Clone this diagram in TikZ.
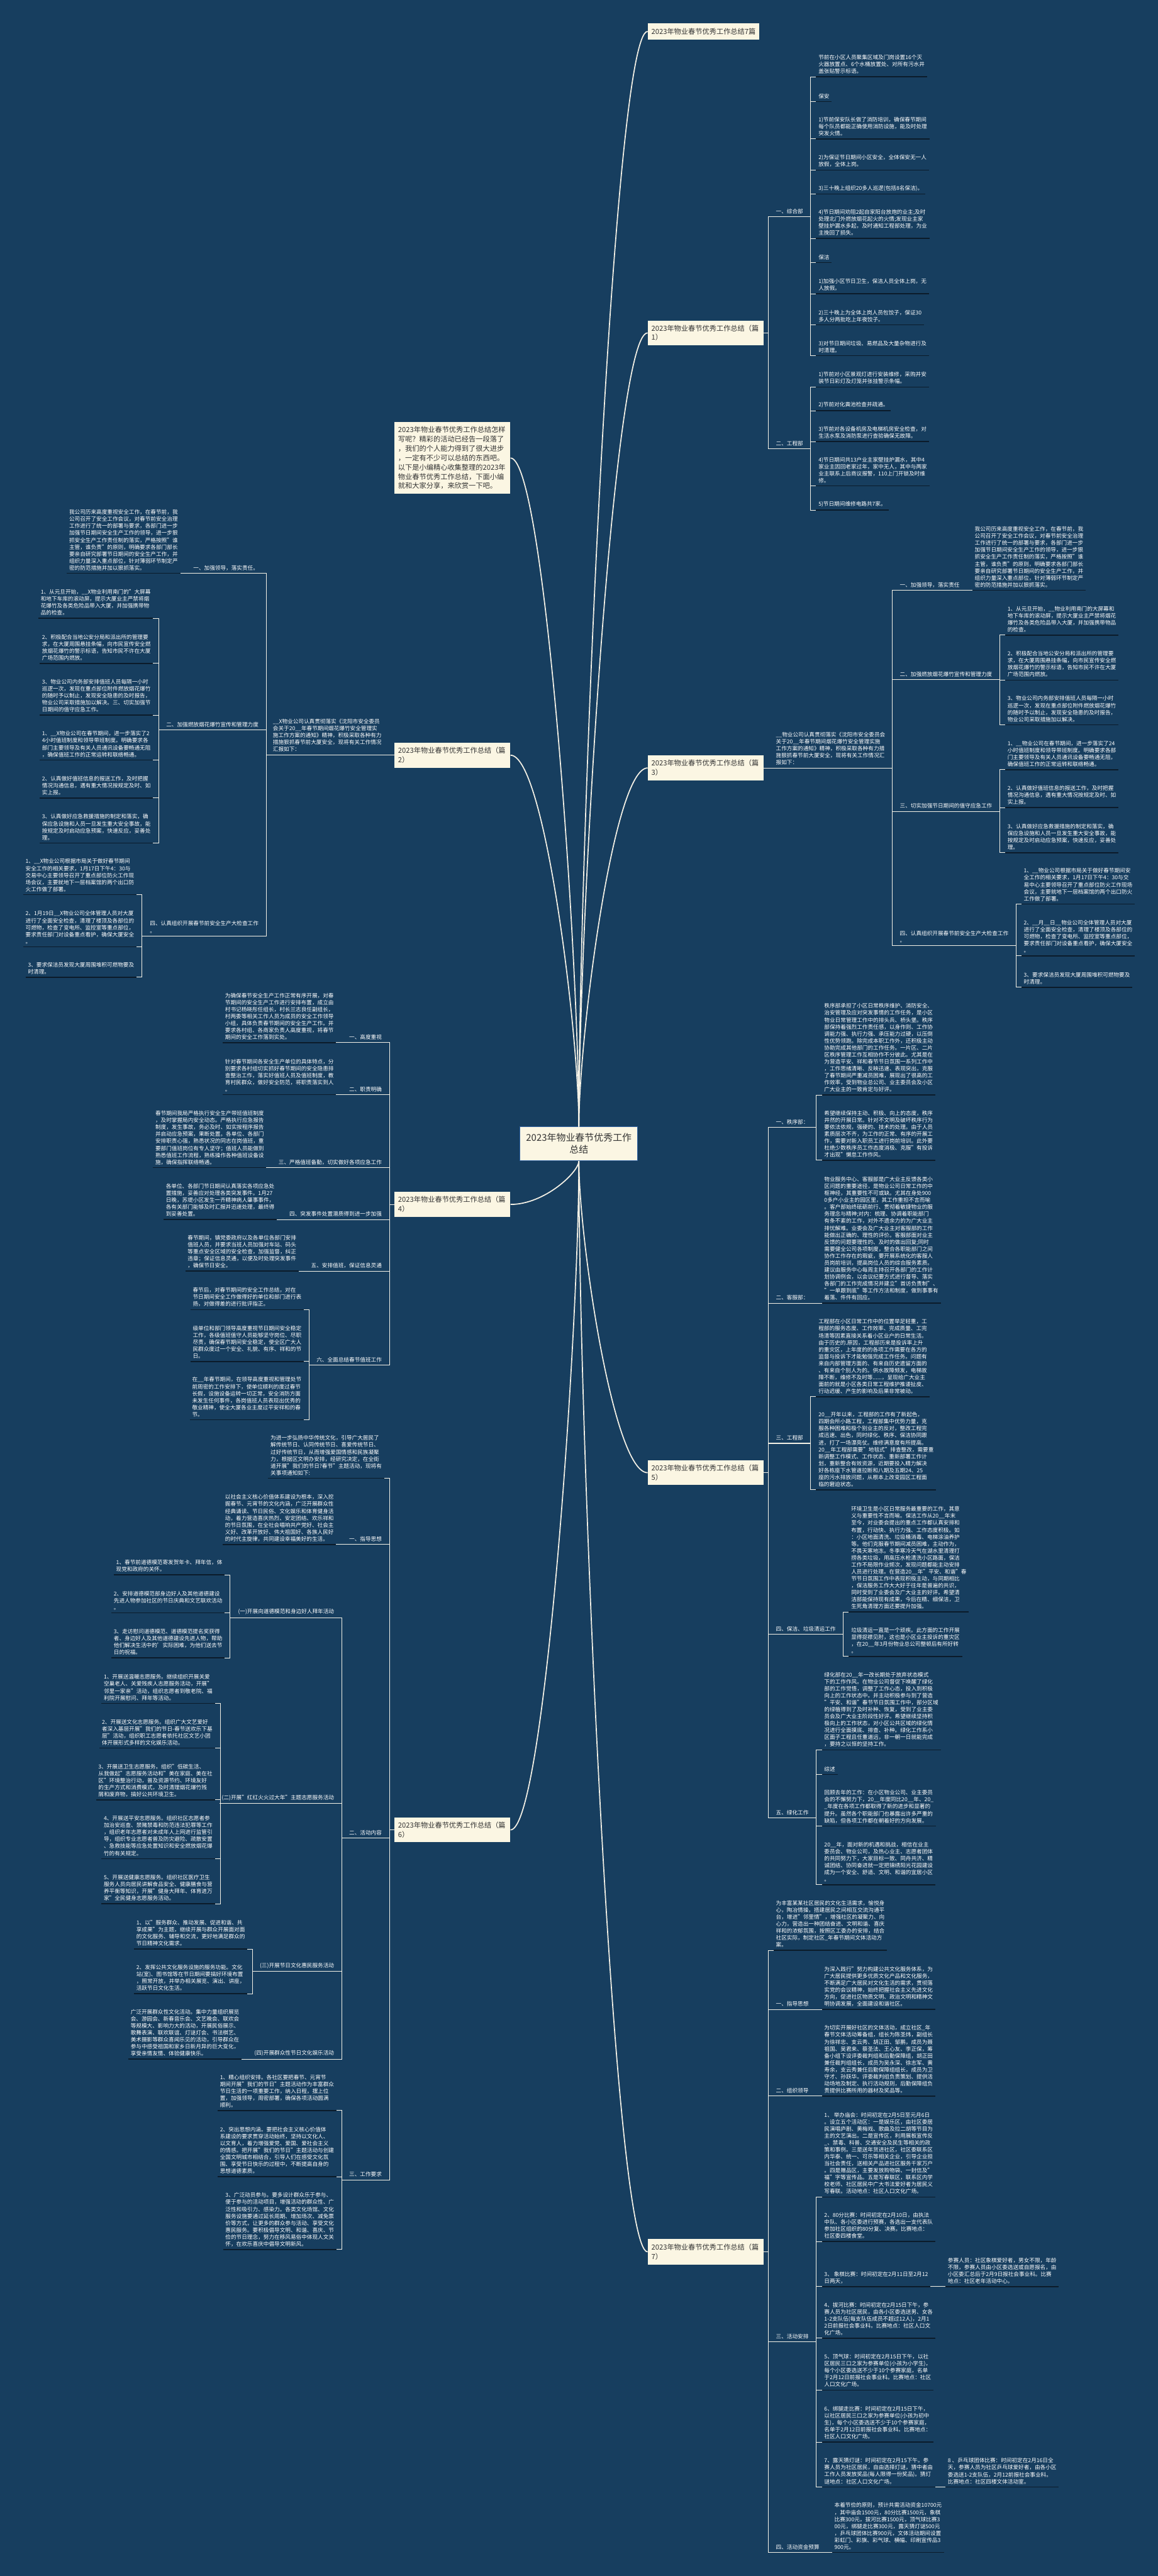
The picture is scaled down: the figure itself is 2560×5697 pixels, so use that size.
\documentclass[tikz,border=0pt]{standalone}
\usepackage{fontspec}
\setmainfont{Noto Sans CJK SC}
\usetikzlibrary{calc}
\definecolor{bgblue}{HTML}{173E5F}
\definecolor{cream}{HTML}{FBF6E3}
\definecolor{inkdark}{HTML}{0B1B2A}
\definecolor{rimblue}{HTML}{3465A4}
\definecolor{linewhite}{HTML}{F4F1E6}
\definecolor{boxink}{HTML}{333333}
\newcommand{\leaffont}{\fontsize{6}{7.7}\selectfont}
\newcommand{\boxfont}{\fontsize{7.8}{10.3}\selectfont}
\newcommand{\rootfont}{\fontsize{10.4}{13.35}\selectfont}

\begin{document}
\begin{tikzpicture}[x=0.5pt,y=-0.5pt,
  trunk/.style={draw=linewhite,line width=1.2pt},
  conn/.style={draw=linewhite,line width=0.7pt},
  wline/.style={draw=linewhite,line width=0.7pt},
  dline/.style={draw=inkdark,line width=1.1pt},
  txt/.style={font=\leaffont,text=white,align=left,inner xsep=2.5pt,inner ysep=3pt},
  leaf/.style={txt,append after command={(\tikzlastnode.south west) edge[dline] (\tikzlastnode.south east)}},
  lab/.style={txt,append after command={(\tikzlastnode.south west) edge[wline] (\tikzlastnode.south east)}},
  rleaf/.style={leaf,anchor=south west}, lleaf/.style={leaf,anchor=south east},
  rlab/.style={lab,anchor=south west}, llab/.style={lab,anchor=south east},
  pbox/.style={fill=cream,text=boxink,font=\boxfont,align=left,anchor=north west,inner xsep=4pt,text width=120pt},
  rootbox/.style={fill=cream,draw=rimblue,line width=0.6pt,text=boxink,font=\rootfont,align=center,minimum width=130pt,minimum height=37.5pt}]

\useasboundingbox (0,0) rectangle (2560,5697);
\fill[bgblue] (0,0) rectangle (2560,5697);

\node[rootbox] (root) at (1280,2529.5) {2023年物业春节优秀工作\\总结};

\node[pbox,minimum height=18.6pt,text width=115pt] (t7) at (1432,50.5) {2023年物业春节优秀工作总结7篇};
\node[pbox,minimum height=27.3pt] (p1) at (1432,708.5) {2023年物业春节优秀工作总结（篇\\1）};
\node[pbox,minimum height=28pt] (p3) at (1432,1670) {2023年物业春节优秀工作总结（篇\\3）};
\node[pbox,minimum height=27.5pt] (p5) at (1432,3229) {2023年物业春节优秀工作总结（篇\\5）};
\node[pbox,minimum height=28.7pt] (p7) at (1432,4951) {2023年物业春节优秀工作总结（篇\\7）};
\node[pbox,minimum height=79.5pt] (intro) at (872,933) {2023年物业春节优秀工作总结怎样\\写呢？精彩的活动已经告一段落了\\，我们的个人能力得到了很大进步\\，一定有不少可以总结的东西吧。\\以下是小编精心收集整理的2023年\\物业春节优秀工作总结，下面小编\\就和大家分享，来欣赏一下吧。};
\node[pbox,minimum height=27.75pt] (p2) at (872,1642) {2023年物业春节优秀工作总结（篇\\2）};
\node[pbox,minimum height=28.25pt] (p4) at (872,2635) {2023年物业春节优秀工作总结（篇\\4）};
\node[pbox,minimum height=27.5pt] (p6) at (872,4019) {2023年物业春节优秀工作总结（篇\\6）};

\draw[trunk] (root.north) .. controls +(0,-606) and +(-76,0) .. (t7.west);
\draw[trunk] (root.north) .. controls +(0,-439) and +(-76,0) .. (p1.west);
\draw[trunk] (root.north) .. controls +(0,-198) and +(-76,0) .. (p3.west);
\draw[trunk] (root.north) .. controls +(0,-370) and +(76,0) .. (intro.east);
\draw[trunk] (root.north) .. controls +(0,-205) and +(76,0) .. (p2.east);
\draw[trunk] (root.south) .. controls +(0,24) and +(76,0) .. (p4.east);
\draw[trunk] (root.south) .. controls +(0,172) and +(-76,0) .. (p5.west);
\draw[trunk] (root.south) .. controls +(0,370) and +(76,0) .. (p6.east);
\draw[trunk] (root.south) .. controls +(0,603) and +(-76,0) .. (p7.west);

% pian 1
\node[rlab] (p1a) at (1710.5,479) {一、综合部};
\node[rlab] (p1b) at (1710.5,993) {二、工程部};
\node[rleaf] (p1a1) at (1804.5,169.8) {节前在小区人员聚集区域及门岗设置16个灭\\火器放置点、6个水桶放置处、对所有污水井\\盖张贴警示标语。};
\node[rleaf] (p1a2) at (1804.5,224.5) {保安};
\node[rleaf] (p1a3) at (1804.5,307.3) {1)节前保安队长做了消防培训，确保春节期间\\每个队员都能正确使用消防设施，能及时处理\\突发火情。};
\node[rleaf] (p1a4) at (1804.5,376) {2)为保证节日期间小区安全，全体保安无一人\\放假，全体上岗。};
\node[rleaf] (p1a5) at (1804.5,429.3) {3)三十晚上组织20多人巡逻(包括8名保洁)。};
\node[rleaf] (p1a6) at (1804.5,527.5) {4)节日期间劝阻2起自家阳台放炮的业主;及时\\处理北门外燃放烟花起火的火情;发现业主家\\壁挂炉漏水多起，及时通知工程部处理，为业\\主挽回了损失。};
\node[rleaf] (p1a7) at (1804.5,580.8) {保洁};
\node[rleaf] (p1a8) at (1804.5,649.6) {1)加强小区节日卫生，保洁人员全体上岗，无\\人放假。};
\node[rleaf] (p1a9) at (1804.5,718.4) {2)三十晚上为全体上岗人员包饺子，保证30\\多人分两批吃上年夜饺子。};
\node[rleaf] (p1a10) at (1804.5,786.4) {3)对节日期间垃圾、易燃品及大量杂物进行及\\时清理。};
\node[rleaf] (p1b1) at (1804.5,855.8) {1)节前对小区景观灯进行安装维修，采购并安\\装节日彩灯及灯笼并张挂警示条幅。};
\node[rleaf] (p1b2) at (1804.5,908.5) {2)节前对化粪池检查并疏通。};
\node[rleaf] (p1b3) at (1804.5,976.5) {3)节前对各设备机房及电梯机房安全检查，对\\生活水泵及消防泵进行查验确保无故障。};
\node[rleaf] (p1b4) at (1804.5,1074.7) {4)节日期间共13户业主家壁挂炉漏水，其中4\\家业主因回老家过年，家中无人，其中与两家\\业主联系上后商议报警，110上门开锁及时维\\修。};
\node[rleaf] (p1b5) at (1804.5,1128) {5)节日期间维修电路共7家。};
\foreach \nd in {p1a,p1b}
  \draw[conn] (p1.east) -| ($(\nd.south west)+(-12,0)$) -- (\nd.south west);
\foreach \nd in {p1a1,p1a2,p1a3,p1a4,p1a5,p1a6,p1a7,p1a8,p1a9,p1a10}
  \draw[conn] (p1a.south east) -| ($(\nd.south west)+(-12,0)$) -- (\nd.south west);
\foreach \nd in {p1b1,p1b2,p1b3,p1b4,p1b5}
  \draw[conn] (p1b.south east) -| ($(\nd.south west)+(-12,0)$) -- (\nd.south west);

% pian 3
\node[rlab] (p3i) at (1710.5,1698.4) {\_\_物业公司认真贯彻落实《沈阳市安全委员会\\关于20\_\_年春节期间烟花爆竹安全管理实施\\工作方案的通知》精神，积极采取各种有力措\\施狠抓春节前大厦安全，现将有关工作情况汇\\报如下：};
\node[rlab] (p3a) at (1984.5,1305.5) {一、加强领导，落实责任};
\node[rlab] (p3b) at (1984.5,1503.4) {二、加强燃放烟花爆竹宣传和管理力度};
\node[rlab] (p3c) at (1984.5,1794.5) {三、切实加强节日期间的值守应急工作};
\node[rlab] (p3d) at (1984.5,2091) {四、认真组织开展春节前安全生产大检查工作\\。};
\node[rleaf] (p3a1) at (2150,1305.5) {我公司历来高度重视安全工作，在春节前，我\\公司召开了安全工作会议，对春节前安全治理\\工作进行了统一的部署与要求，各部门进一步\\加强节日期间安全生产工作的领导，进一步狠\\抓安全生产工作责任制的落实，严格按照"谁\\主管，谁负责"的原则，明确要求各部门部长\\要亲自研究部署节日期间的安全生产工作，并\\组织力量深入重点部位，针对薄弱环节制定严\\密的防范措施并加以狠抓落实。};
\node[rleaf] (p3b1) at (2222.4,1404.5) {1、从元旦开始，\_\_物业利用南门的大屏幕和\\地下车库的滚动屏，提示大厦业主严禁将烟花\\爆竹及各类危险品带入大厦，并加强携带物品\\的检查。};
\node[rleaf] (p3b2) at (2222.4,1504) {2、积极配合当地公安分局和派出所的管理要\\求，在大厦周围悬挂条幅，向市民宣传安全燃\\放烟花爆竹的警示标语，告知市民不许在大厦\\广场范围内燃放。};
\node[rleaf] (p3b3) at (2222.4,1603) {3、物业公司内务部安排值班人员每隔一小时\\巡逻一次，发现在重点部位附件燃放烟花爆竹\\的随时予以制止，发现安全隐患的及时报告，\\物业公司采取措施加以解决。};
\node[rleaf] (p3c1) at (2222.4,1702) {1、\_\_物业公司在春节期间，进一步落实了24\\小时值班制度和领导带班制度。明确要求各部\\门主要领导及有关人员通讯设备要畅通无阻，\\确保值班工作的正常运转和联络畅通。};
\node[rleaf] (p3c2) at (2222.4,1786) {2、认真做好值班信息的报送工作，及时把握\\情况沟通信息，遇有重大情况按规定及时、如\\实上报。};
\node[rleaf] (p3c3) at (2222.4,1885.7) {3、认真做好应急救援措施的制定和落实，确\\保应急设施和人员一旦发生重大安全事故，能\\按规定及时启动应急预案，快速反应，妥善处\\理。};
\node[rleaf] (p3d1) at (2258.5,1999.3) {1、\_\_物业公司根据市局关于做好春节期间安\\全工作的相关要求，1月17日下午4：30与交\\易中心主要领导召开了重点部位防火工作现场\\会议，主要就地下一层档案馆的两个出口防火\\工作做了部署。};
\node[rleaf] (p3d2) at (2258.5,2113.7) {2、\_\_月\_\_日\_\_物业公司全体管理人员对大厦\\进行了全面安全检查，清理了楼顶及各部位的\\可燃物，检查了变电所、监控室等重点部位，\\要求责任部门对设备重点看护，确保大厦安全\\。};
\node[rleaf] (p3d3) at (2258.5,2183.3) {3、要求保洁员发现大厦周围堆积可燃物要及\\时清理。};
\draw[conn] (p3.east) -| ($(p3i.south west)+(-12,0)$) -- (p3i.south west);
\foreach \nd in {p3a,p3b,p3c,p3d}
  \draw[conn] (p3i.south east) -| ($(\nd.south west)+(-12,0)$) -- (\nd.south west);
\draw[conn] (p3a.south east) -- (p3a1.south west);
\foreach \nd in {p3b1,p3b2,p3b3}
  \draw[conn] (p3b.south east) -| ($(\nd.south west)+(-12,0)$) -- (\nd.south west);
\foreach \nd in {p3c1,p3c2,p3c3}
  \draw[conn] (p3c.south east) -| ($(\nd.south west)+(-12,0)$) -- (\nd.south west);
\foreach \nd in {p3d1,p3d2,p3d3}
  \draw[conn] (p3d.south east) -| ($(\nd.south west)+(-12,0)$) -- (\nd.south west);

% pian 5
\node[rlab] (p5a) at (1710.5,2493.75) {一、秩序部：};
\node[rlab] (p5b) at (1710.5,2882) {二、客服部：};
\node[rlab] (p5c) at (1710.5,3192) {三、工程部};
\node[rlab] (p5d) at (1710.5,3614) {四、保洁、垃圾清运工作};
\node[rlab] (p5e) at (1710.5,4020) {五、绿化工作};
\node[rleaf] (p5a1) at (1817.3,2421.7) {秩序部承担了小区日常秩序维护、消防安全、\\治安管理及应对突发事情的工作任务，是小区\\物业日常管理工作中的排头兵、桥头堡。秩序\\部保持着强烈工作责任感，以身作则、工作协\\调能力强、执行力强、承压能力过硬，以压倒\\性优势领跑。除完成本职工作外，还积极主动\\协助完成其他部门的工作任务。一片区、二片\\区秩序管理工作互相协作不分彼此。尤其是在\\为营造平安、祥和春节节日氛围一系列工作中\\，工作思绪清晰、反映迅速、表现突出，克服\\了春节期间严重减员困难，展现出了很高的工\\作效率，受到物业总公司、业主委员会及小区\\广大业主的一致肯定与好评。};
\node[rleaf] (p5a2) at (1817.3,2566) {希望继续保持主动、积极、向上的态度，秩序\\井然的开展日常。针对不文明及破坏秩序行为\\要依法依规，强硬的、技术的处理。由于人员\\素质层次不齐，为工作的正常、有序的开展工\\作，需要对新入职员工进行岗前培训。此外要\\杜绝少数秩序员工作态度消极、克服"有投诉\\才出现"懒怠工作作风。};
\node[rleaf] (p5b1) at (1817.3,2882) {物业服务中心、客服部是广大业主反馈各类小\\区问题的重要途径，是物业公司日常工作的中\\枢神经，其重要性不可或缺。尤其在身处900\\0多户小业主的园区里，其工作重担不言而喻\\。客户部始终砥砺前行、贯彻着敏捷物业的服\\务理念与精神;对内：梳理、协调着职能部门\\有条不紊的工作，对外不遗余力的为广大业主\\排忧解难。业委会及广大业主对客服部的工作\\能做出正确的、理性的评价。客服部面对业主\\反馈的问题要理性的、及时的做出回复;同时\\需要健全公司各项制度，整合各职能部门之间\\协作工作存在的瑕疵，要开展系统化的客服人\\员岗前培训，提高岗位人员的综合服务素质。\\建议由服务中心每周主持召开各部门的工作计\\划协调例会，以会议纪要方式进行督导、落实\\各部门的工作完成情况并建立"首访负责制"、\\"一单跟到底"等工作方法和制度，做到事事有\\着落、件件有回应。};
\node[rleaf] (p5c1) at (1804.5,3089) {工程部在小区日常工作中的位置举足轻重，工\\程部的服务态度、工作效率、完成质量、工完\\场清等因素直接关系着小区业户的日常生活。\\由于历史的.原因，工程部历来是投诉率上升\\的重灾区，上年度的的各项工作需要在各方的\\监督与投诉下才能勉强完成工作任务。问题有\\来自内部管理方面的、有来自历史遗留方面的\\、有来自个别人为的。供水故障频发，电梯故\\障不断，维修不及时等......，呈现给广大业主\\面前的就是小区各类日常工程维护推诿扯皮、\\行动迟缓、产生的影响及后果非常被动。};
\node[rleaf] (p5c2) at (1804.5,3294.6) {20\_\_开年以来，工程部的工作有了新起色，\\四期会所小路工程，工程部集中优势力量，克\\服各种困难和极个别业主的反对，整改工程完\\成迅速、出色，同时绿化、秩序、保洁协同跟\\进，打了一场漂亮仗。维修满意度有所提高。\\20\_\_年工程部需要"地毯式"排查整改，需要重\\新调整工作模式、工作状态、重新部署工作计\\划，重新整合有效资源，近期要投入精力解决\\好各栋座下水管道拉断和八期及五期24、25\\座的污水排放问题，从根本上改变园区工程面\\临的窘迫状态。};
\node[rleaf] (p5d1) at (1876.8,3565) {环境卫生是小区日常服务最重要的工作，其意\\义与重要性不言而喻。保洁工作从20\_\_年末\\至今，对业委会提出的重点工作都认真安排和\\布置，行动快、执行力强、工作态度积极。如\\：小区地面清洗、垃圾桶消毒、电梯涂油养护\\等。他们克服春节期间减员困难，主动作为，\\不畏天寒地冻。冬季寒冷天气在湖水里清理打\\捞各类垃圾，用高压水枪清洗小区路面，保洁\\工作不局限作业频次，发现问题都能主动安排\\人员进行处理。在营造20\_\_年"平安、和谐"春\\节节日氛围工作中表现积极主动，与同期相比\\，保洁服务工作大大好于往年是普遍的共识，\\同时受到了业委会及广大业主的好评。希望清\\洁部能保持现有成果，今后在精、细保洁，卫\\生死角清理方面还要提升加强。};
\node[rleaf] (p5d2) at (1876.8,3663.4) {垃圾清运一直是一个顽疾。此方面的工作开展\\显得捉襟见肘，这也是小区业主投诉的重灾区\\，在20\_\_年3月份物业总公司整顿后有所好转\\。};
\node[rleaf] (p5e1) at (1817.3,3870) {绿化部在20\_\_年一改长期处于放弃状态模式\\下的工作作风。在物业公司督促下唤醒了绿化\\部的工作觉悟，调整了工作心态，投入到积极\\向上的工作状态中。并主动积极参与到了营造\\"平安、和谐"春节节日氛围工作中，部分区域\\的绿植得到了及时补种、恢复，受到了业主委\\员会及广大业主阶段性好评。希望继续坚持积\\极向上的工作状态，对小区公共区域的绿化情\\况进行全面摸底、排查、补种。绿化工作系小\\区面子工程且任重道远，非一朝一日就能完成\\，要持之以恒的坚持工作。};
\node[rleaf] (p5e2) at (1817.3,3924.4) {综述};
\node[rleaf] (p5e3) at (1817.3,4038.5) {回顾去年的工作：在小区物业公司、业主委员\\会的不懈努力下，20\_\_年度同比20\_\_年、20\_\\\_年度在各项工作都取得了新的进步和显著的\\提升。虽然各个职能部门也暴露出许多严重的\\缺陷，但各项工作都在朝着好的方向发展。};
\node[rleaf] (p5e4) at (1817.3,4168) {20\_\_年，面对新的机遇和挑战，相信在业主\\委员会、物业公司，及热心业主、志愿者团体\\的共同努力下，大家目标一致、同舟共济、精\\诚团结、协同奋进就一定把锦绣阳光花园建设\\成为一个安全、舒适、文明、和谐的宜居小区\\。};
\foreach \nd in {p5a,p5b,p5c,p5d,p5e}
  \draw[conn] (p5.east) -| ($(\nd.south west)+(-12,0)$) -- (\nd.south west);
\foreach \nd in {p5a1,p5a2}
  \draw[conn] (p5a.south east) -| ($(\nd.south west)+(-12,0)$) -- (\nd.south west);
\draw[conn] (p5b.south east) -- (p5b1.south west);
\foreach \nd in {p5c1,p5c2}
  \draw[conn] (p5c.south east) -| ($(\nd.south west)+(-12,0)$) -- (\nd.south west);
\foreach \nd in {p5d1,p5d2}
  \draw[conn] (p5d.south east) -| ($(\nd.south west)+(-12,0)$) -- (\nd.south west);
\foreach \nd in {p5e1,p5e2,p5e3,p5e4}
  \draw[conn] (p5e.south east) -| ($(\nd.south west)+(-12,0)$) -- (\nd.south west);

% pian 7
\node[rleaf] (p7i) at (1710.5,4313.4) {为丰富某某社区居民的文化生活需求，愉悦身\\心，陶冶情操，搭建居民之间相互交流沟通平\\台，增进"邻里情"，增强社区的凝聚力、向\\心力，营造出一种团结奋进、文明和谐、喜庆\\祥和的浓郁氛围，按照区工委办的安排，结合\\社区实际，制定社区\_年春节期间文体活动方\\案。};
\node[rlab] (p7a) at (1710.5,4444) {一、指导思想};
\node[rlab] (p7b) at (1710.5,4635.5) {二、组织领导};
\node[rlab] (p7c) at (1710.5,5178.8) {三、活动安排};
\node[rlab] (p7d) at (1710.5,5645) {四、活动资金预算};
\node[rleaf] (p7a1) at (1817.3,4444) {为深入践行"努力构建公共文化服务体系，为\\广大居民提供更多优质文化产品和文化服务，\\不断满足广大居民对文化生活的需求，贯彻落\\实党的会议精神，始终把握社会主义先进文化\\方向，促进社区物质文明、政治文明和精神文\\明协调发展，全面建设和谐社区。};
\node[rleaf] (p7b1) at (1817.3,4635.5) {为切实开展好社区的文体活动，成立社区\_年\\春节文体活动筹备组，组长为陈圣炜，副组长\\为徐祥忠、支云秀、胡正田、邹鹏，成员为聂\\祖国、吴君来、蔡圣法、王心友、李正保，筹\\备小组下设评委裁判组和后勤保障组，胡正田\\兼任裁判组组长，成员为吴永深、徐志军、黄\\寿余，支云秀兼任后勤保障组组长，成员为卫\\守才、孙跃华。评委裁判组负责策划、提供活\\动场地及制定、执行活动规则，后勤保障组负\\责提供比赛所用的器材及奖品等。};
\node[rleaf] (p7c1) at (1817.3,4858.7) {1、 举办庙会：时间初定在2月5日至元月6日\\。设立五个活动区：一是娱乐区，由社区委居\\民演唱庐剧、黄梅戏、歌曲及拉二胡等节目为\\主的文艺演出。二是宣传区，利用展板宣传反\\\_、禁毒、科普、交通安全及民生等相关的政\\策和事例。三是送年货进社区，社区委联系区\\内华泰、统一、可乐等相关企业，引导企业担\\当社会责任，送相关产品进社区服务千家万户\\。四是赠品区，主要发放购物袋、一封信及"\\福"字等宣传品。五是写春联区，联系区内学\\校老师、社区居民中广大书法爱好者为居民义\\写春联。活动地点：社区人口文化广场。};
\node[rleaf] (p7c2) at (1817.3,4957) {2、80分比赛：时间初定在2月10日，由执法\\中队、各小区委进行预赛，各选出一支代表队\\参加社区组织的80分复、决赛。比赛地点：\\社区委四楼食堂。};
\node[rleaf] (p7c3) at (1817.3,5056.8) {3、 象棋比赛：时间初定在2月11日至2月12\\日两天，};
\node[rleaf] (p7c3x) at (2090.6,5056.8) {参赛人员：社区象棋爱好者，男女不限，年龄\\不限，参赛人员由小区委选送或自愿报名，由\\小区委汇总后于2月9日报社会事业科。比赛\\地点：社区老年活动中心。};
\node[rleaf] (p7c4) at (1817.3,5171) {4、拔河比赛：时间初定在2月15日下午，参\\赛人员为社区居民，由各小区委选送男、女各\\1-2支队伍(每支队伍成员不超过12人)，2月1\\2日前报社会事业科。比赛地点：社区人口文\\化广场。};
\node[rleaf] (p7c5) at (1817.3,5285.7) {5、顶气球：时间初定在2月15日下午，以社\\区居民三口之家为参赛单位(小孩为小学生)，\\每个小区委选送不少于10个参赛家庭，名单\\于2月12日前报社会事业科。比赛地点：社区\\人口文化广场。};
\node[rleaf] (p7c6) at (1817.3,5401) {6、绑腿走比赛：时间初定在2月15日下午，\\以社区居民三口之家为参赛单位(小孩为初中\\生)，每个小区委选送不少于10个参赛家庭，\\名单于2月12日前报社会事业科。比赛地点：\\社区人口文化广场。};
\node[rleaf] (p7c7) at (1817.3,5500) {7、露天猜灯谜：时间初定在2月15下午。参\\赛人员为社区居民，自由选择灯谜，猜中者由\\工作人员发放奖品(每人限得一份奖品)。猜灯\\谜地点：社区人口文化广场。};
\node[rleaf] (p7c7x) at (2090.6,5500) {8 、乒乓球团体比赛：时间初定在2月16日全\\天，参赛人员为社区乒乓球爱好者，由各小区\\委选送1-2支队伍，2月12前报社会事业科。\\比赛地点：社区四楼文体活动室。};
\node[rleaf] (p7d1) at (1839.8,5645) {本着节俭的原则，预计共需活动资金10700元\\，其中庙会1500元，80分比赛1500元，象棋\\比赛300元，拔河比赛1500元，顶气球比赛3\\00元，绑腿走比赛300元，露天猜灯谜500元\\，乒乓球团体比赛900元，文体活动期间设置\\彩虹门、彩旗、彩气球、横幅、印刷宣传品3\\900元。};
\foreach \nd in {p7i,p7a,p7b,p7c,p7d}
  \draw[conn] (p7.east) -| ($(\nd.south west)+(-12,0)$) -- (\nd.south west);
\draw[conn] (p7a.south east) -- (p7a1.south west);
\draw[conn] (p7b.south east) -- (p7b1.south west);
\foreach \nd in {p7c1,p7c2,p7c3,p7c4,p7c5,p7c6,p7c7}
  \draw[conn] (p7c.south east) -| ($(\nd.south west)+(-12,0)$) -- (\nd.south west);
\draw[conn] (p7c3.south east) -- (p7c3x.south west);
\draw[conn] (p7c7.south east) -- (p7c7x.south west);
\draw[conn] (p7d.south east) -- (p7d1.south west);

% pian 2
\node[llab] (p2i) at (849,1669.4) {\_\_X物业公司认真贯彻落实《沈阳市安全委员\\会关于20\_\_年春节期间烟花爆竹安全管理实\\施工作方案的通知》精神，积极采取各种有力\\措施狠抓春节前大厦安全，现将有关工作情况\\汇报如下：};
\node[llab] (p2a) at (577,1268) {一、加强领导，落实责任。};
\node[llab] (p2b) at (577,1614.6) {二、加强燃放烟花爆竹宣传和管理力度};
\node[llab] (p2c) at (577,2069.8) {四、认真组织开展春节前安全生产大检查工作\\。};
\node[lleaf] (p2a1) at (398.5,1268) {我公司历来高度重视安全工作，在春节前，我\\公司召开了安全工作会议，对春节前安全治理\\工作进行了统一的部署与要求，各部门进一步\\加强节日期间安全生产工作的领导，进一步狠\\抓安全生产工作责任制的落实，严格按照"谁\\主管，谁负责"的原则，明确要求各部门部长\\要亲自研究部署节日期间的安全生产工作，并\\组织力量深入重点部位，针对薄弱环节制定严\\密的防范措施并加以狠抓落实。};
\node[lleaf] (p2b1) at (338.5,1367.6) {1、从元旦开始，\_\_X物业利用南门的"大屏幕\\和地下车库的滚动屏，提示大厦业主严禁将烟\\花爆竹及各类危险品带入大厦，并加强携带物\\品的检查。};
\node[lleaf] (p2b2) at (338.5,1467) {2、积极配合当地公安分局和派出所的管理要\\求，在大厦周围悬挂条幅，向市民宣传安全燃\\放烟花爆竹的警示标语，告知市民不许在大厦\\广场范围内燃放。};
\node[lleaf] (p2b3) at (338.5,1581.5) {3、物业公司内务部安排值班人员每隔一小时\\巡逻一次，发现在重点部位附件燃放烟花爆竹\\的随时予以制止，发现安全隐患的及时报告，\\物业公司采取措施加以解决。三、切实加强节\\日期间的值守应急工作。};
\node[lleaf] (p2b4) at (338.5,1681) {1、\_\_X物业公司在春节期间，进一步落实了2\\4小时值班制度和领导带班制度。明确要求各\\部门主要领导及有关人员通讯设备要畅通无阻\\，确保值班工作的正常运转和联络畅通。};
\node[lleaf] (p2b5) at (338.5,1764.7) {2、认真做好值班信息的报送工作，及时把握\\情况沟通信息，遇有重大情况按规定及时、如\\实上报。};
\node[lleaf] (p2b6) at (338.5,1864.2) {3、认真做好应急救援措施的制定和落实，确\\保应急设施和人员一旦发生重大安全事故，能\\按规定及时启动应急预案，快速反应，妥善处\\理。};
\node[lleaf] (p2c1) at (302,1978.6) {1、\_\_X物业公司根据市局关于做好春节期间\\安全工作的相关要求，1月17日下午4：30与\\交易中心主要领导召开了重点部位防火工作现\\场会议，主要就地下一层档案馆的两个出口防\\火工作做了部署。};
\node[lleaf] (p2c2) at (302,2093.8) {2、1月19日\_\_X物业公司全体管理人员对大厦\\进行了全面安全检查，清理了楼顶及各部位的\\可燃物，检查了变电所、监控室等重点部位，\\要求责任部门对设备重点看护，确保大厦安全\\。};
\node[lleaf] (p2c3) at (302,2161) {3、要求保洁员发现大厦周围堆积可燃物要及\\时清理。};
\draw[conn] (p2.west) -| ($(p2i.south east)+(12,0)$) -- (p2i.south east);
\foreach \nd in {p2a,p2b,p2c}
  \draw[conn] (p2i.south west) -| ($(\nd.south east)+(12,0)$) -- (\nd.south east);
\draw[conn] (p2a.south west) -- (p2a1.south east);
\foreach \nd in {p2b1,p2b2,p2b3,p2b4,p2b5,p2b6}
  \draw[conn] (p2b.south west) -| ($(\nd.south east)+(12,0)$) -- (\nd.south east);
\foreach \nd in {p2c1,p2c2,p2c3}
  \draw[conn] (p2c.south west) -| ($(\nd.south east)+(12,0)$) -- (\nd.south east);

% pian 4
\node[llab] (p4a) at (849.5,2306) {一、高度重视};
\node[llab] (p4b) at (849.5,2420.7) {二、职责明确};
\node[llab] (p4c) at (849.5,2582.4) {三、严格值班备勤，切实做好各项应急工作};
\node[llab] (p4d) at (849.5,2697.2) {四、突发事件处置潜质得到进一步加强};
\node[llab] (p4e) at (849.5,2811) {五、安排值班，保证信息灵通};
\node[llab] (p4f) at (849.5,3018.6) {六、全面总结春节值班工作};
\node[lleaf] (p4a1) at (743.3,2306) {为确保春节安全生产工作正常有序开展，对春\\节期间的安全生产工作进行安排布置，成立由\\村书记杨晓彤任组长，村长兰志良任副组长，\\村两委等相关工作人员为成员的安全工作领导\\小组，具体负责春节期间的安全生产工作。并\\要求各村组、各商家负责人高度重视，将春节\\期间的安全工作落到实处。};
\node[lleaf] (p4b1) at (743.3,2420.7) {针对春节期间各安全生产单位的具体特点，分\\别要求各村组切实抓好春节期间的安全隐患排\\查整治工作，落实好值班人员及值班制度，教\\育村民群众，做好安全防范，将职责落实到人\\。};
\node[lleaf] (p4c1) at (589,2582.4) {春节期间我局严格执行安全生产带班值班制度\\，及时掌握局内安全动态。严格执行应急报告\\制度，发生事故，务必及时、如实按程序报告\\并启动应急预案，果断处置。各单位、各部门\\安排职责心强，熟悉状况的同志在岗值班，重\\要部门值班岗位有专人坚守；值班人员能做到\\熟悉值班工作流程，熟练操作各种值班设备设\\施，确保指挥联络畅通。};
\node[lleaf] (p4d1) at (612.3,2697.2) {各单位、各部门节日期间认真落实各项应急处\\置措施，妥善应对处理各类突发事件。1月27\\日晚，苏堤小区发生一齐精神病人肇事事件，\\各有关部门能够及时汇报并迅速处理，最终得\\到妥善处置。};
\node[lleaf] (p4e1) at (660.5,2811) {春节期间，镇党委政府以及各单位各部门安排\\值班人员，并要求当班人员加强对车站、码头\\等重点安全区域的安全检查，加强监督，纠正\\违章；保证信息灵通，以便及时处理突发事件\\，确保节日安全。};
\node[lleaf] (p4f1) at (671.8,2896.2) {春节后，对春节期间的安全工作总结，对在\\节日期间安全工作做得好的单位和部门进行表\\扬，对做得差的进行批评指正。};
\node[lleaf] (p4f2) at (671.8,3011) {级单位和部门领导高度重视节日期间安全稳定\\工作，各级值班值守人员能够坚守岗位、尽职\\尽责，确保春节期间安全稳定，使全区广大人\\民群众度过一个安全、礼貌、有序、祥和的节\\日。};
\node[lleaf] (p4f3) at (671.8,3140) {在\_\_年春节期间，在领导高度重视和管理处节\\前周密的工作安排下，使单位顺利的度过春节\\长假，设施设备运转一切正常，安全消防方面\\未发生任何事件，各岗值班人员表现出优秀的\\敬业精神，使全大厦各业主度过平安祥和的春\\节。};
\foreach \nd in {p4a,p4b,p4c,p4d,p4e,p4f}
  \draw[conn] (p4.west) -| ($(\nd.south east)+(12,0)$) -- (\nd.south east);
\draw[conn] (p4a.south west) -- (p4a1.south east);
\draw[conn] (p4b.south west) -- (p4b1.south east);
\draw[conn] (p4c.south west) -- (p4c1.south east);
\draw[conn] (p4d.south west) -- (p4d1.south east);
\draw[conn] (p4e.south west) -- (p4e1.south east);
\foreach \nd in {p4f1,p4f2,p4f3}
  \draw[conn] (p4f.south west) -| ($(\nd.south east)+(12,0)$) -- (\nd.south east);

% pian 6
\node[lleaf] (p6i) at (849.5,3269.3) {为进一步弘扬中华传统文化，引导广大居民了\\解传统节日、认同传统节日、喜爱传统节日、\\过好传统节日，从而增强爱国情感和民族凝聚\\力，根据区文明办安排，经研究决定，在全街\\道开展"我们的节日?春节"主题活动，现将有\\关事项通知如下:};
\node[llab] (p6a) at (849.5,3415.7) {一、指导思想};
\node[llab] (p6b) at (849.5,4065) {二、活动内容};
\node[llab] (p6c) at (849.5,4820.8) {三、工作要求};
\node[lleaf] (p6a1) at (743.3,3415.7) {以社会主义核心价值体系建设为根本，深入挖\\掘春节、元宵节的文化内涵，广泛开展群众性\\经典诵读、节日民俗、文化娱乐和体育健身活\\动，着力营造喜庆热烈、安定团结、欢乐祥和\\的节日氛围，在全社会唱响共产党好、社会主\\义好、改革开放好、伟大祖国好、各族人民好\\的时代主旋律，共同建设幸福美好的生活。};
\node[llab] (p6b1) at (744,3577.4) {(一)开展向道德模范和身边好人拜年活动};
\node[llab] (p6b2) at (744,3988.3) {(二)开展"红红火火过大年"主题志愿服务活动};
\node[llab] (p6b3) at (744,4359.4) {(三)开展节日文化惠民服务活动};
\node[llab] (p6b4) at (744,4554) {(四)开展群众性节日文化娱乐活动};
\node[lleaf] (p6b1a) at (497,3482.7) {1、春节前道德模范寄发贺年卡、拜年信，体\\现党和政府的关怀。};
\node[lleaf] (p6b1b) at (497,3566.8) {2、安排道德模范部身边好人及其他道德建设\\先进人物参加社区的节日庆典和文艺联欢活动\\。};
\node[lleaf] (p6b1c) at (497,3666.3) {3、走访慰问道德模范、道德模范提名奖获得\\者、身边好人及其他道德建设先进人物，帮助\\他们解决生活中的'实际困难，为他们送去节\\日的祝福。};
\node[lleaf] (p6b2a) at (475,3767) {1、开展送温暖志愿服务。继续组织开展关爱\\空巢老人、关爱残疾人志愿服务活动，开展"\\邻里一家亲"活动，组织志愿者到敬老院、福\\利院开展慰问、拜年等活动。};
\node[lleaf] (p6b2b) at (475,3866) {2、开展送文化志愿服务。组织广大文艺爱好\\者深入基层开展"我们的节日-春节送欢乐下基\\层"活动，组织职工志愿者依托社区文艺小团\\体开展形式多样的文化娱乐活动。};
\node[lleaf] (p6b2c) at (475,3980.5) {3、开展送卫生志愿服务。组织"低碳生活、\\从我做起"志愿服务活动和"美在家庭、美在社\\区"环境整治行动，普及资源节约、环境友好\\的生产方式和消费模式，及时清理烟花爆竹残\\屑和废弃物，搞好公共环境卫生。};
\node[lleaf] (p6b2d) at (475,4110.5) {4、开展送平安志愿服务。组织社区志愿者参\\加治安巡查、禁赌禁毒和防范违法犯罪等工作\\，组织老年志愿者对未成年人上网进行监管引\\导，组织专业志愿者普及防灾避险、疏散安置\\、急救技能等应急处置知识和安全燃放烟花爆\\竹的有关规定。};
\node[lleaf] (p6b2e) at (475,4210.4) {5、开展送健康志愿服务。组织社区医疗卫生\\服务人员向居民讲解食品安全、健康膳食与营\\养平衡等知识，开展"健身大拜年、体育进万\\家"全民健身志愿服务活动。};
\node[lleaf] (p6b3a) at (547,4310.3) {1、以"服务群众、推动发展、促进和谐、共\\享成果"为主题，继续开展与群众开展面对面\\的文化服务、辅导和交流，更好地满足群众的\\节日精神文化需求。};
\node[lleaf] (p6b3b) at (547,4409.3) {2、发挥公共文化服务设施的服务功能。文化\\站(室)、图书馆等在节日期间要搞好环境布置\\，照常开放，并举办相关展览、演出、讲座，\\活跃节日文化生活。};
\node[lleaf] (p6b4a) at (534.4,4554) {广泛开展群众性文化活动。集中力量组织展览\\会、游园会、新春音乐会、文艺晚会、联欢会\\等规模大、影响力大的活动，开展民俗展示、\\歌舞表演、联欢联谊、灯谜灯会、书法棋艺、\\美术摄影等群众喜闻乐见的活动，引导群众在\\参与中感受祖国和家乡日新月异的巨大变化，\\享受亲情友情、体验健康快乐。};
\node[lleaf] (p6c1) at (744,4667.6) {1、精心组织安排。各社区要把春节、元宵节\\期间开展"我们的节日"主题活动作为丰富群众\\节日生活的一项重要工作，纳入日程，摆上位\\置，加强领导，周密部署，确保各项活动圆满\\顺利。};
\node[lleaf] (p6c2) at (744,4814) {2、突出思想内涵。要把社会主义核心价值体\\系建设的要求贯穿活动始终，坚持以文化人、\\以文育人，着力增强爱党、爱国、爱社会主义\\的情感。把开展"我们的节日"主题活动与创建\\全国文明城市相结合，引导人们在感受文化氛\\围、享受节日快乐的过程中，不断提高自身的\\思想道德素质。};
\node[lleaf] (p6c3) at (744,4975) {3、广泛动员参与。要多设计群众乐于参与、\\便于参与的活动项目，增强活动的群众性、广\\泛性和吸引力、感染力。各类文化场馆、文化\\服务设施要通过延长周期、增加场次、减免票\\价等方式，让更多的群众参与活动、享受文化\\惠民服务。要积极倡导文明、和谐、喜庆、节\\俭的节日理念，努力在移风易俗中体现人文关\\怀，在欢乐喜庆中倡导文明新风。};
\foreach \nd in {p6i,p6a,p6b,p6c}
  \draw[conn] (p6.west) -| ($(\nd.south east)+(12,0)$) -- (\nd.south east);
\draw[conn] (p6a.south west) -- (p6a1.south east);
\foreach \nd in {p6b1,p6b2,p6b3,p6b4}
  \draw[conn] (p6b.south west) -| ($(\nd.south east)+(12,0)$) -- (\nd.south east);
\foreach \nd in {p6b1a,p6b1b,p6b1c}
  \draw[conn] (p6b1.south west) -| ($(\nd.south east)+(12,0)$) -- (\nd.south east);
\foreach \nd in {p6b2a,p6b2b,p6b2c,p6b2d,p6b2e}
  \draw[conn] (p6b2.south west) -| ($(\nd.south east)+(12,0)$) -- (\nd.south east);
\foreach \nd in {p6b3a,p6b3b}
  \draw[conn] (p6b3.south west) -| ($(\nd.south east)+(12,0)$) -- (\nd.south east);
\draw[conn] (p6b4.south west) -- (p6b4a.south east);
\foreach \nd in {p6c1,p6c2,p6c3}
  \draw[conn] (p6c.south west) -| ($(\nd.south east)+(12,0)$) -- (\nd.south east);
\end{tikzpicture}
\end{document}
